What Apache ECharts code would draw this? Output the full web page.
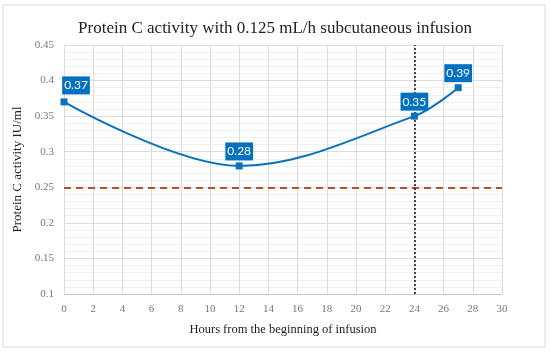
<!DOCTYPE html>
<html><head><meta charset="utf-8">
<script src="https://cdn.jsdelivr.net/npm/echarts@6/dist/echarts.min.js"></script>
<style>html,body{margin:0;padding:0;background:#fff}#c{width:550px;height:355px}</style>
</head><body><div id="c"></div>
<script>
var hours = [0, 12, 24, 27];
var activity = [0.37, 0.28, 0.35, 0.39];
var thresholdValue = 0.25;
var markerHour = 24;
var xTicks = [0, 30, 2];
var yTicks = [0.1, 0.45, 0.05];

var blue = '#0A72BA';
var labelOffsets = [[12, -2], [0, 0], [0, 0], [0, 0]];
var data = hours.map(function (h, i) {
  return {
    value: [h, activity[i]],
    label: { offset: labelOffsets[i] }
  };
});
var serif = '"Liberation Serif", serif';
var chart = echarts.init(document.getElementById('c'));
chart.setOption({
  animation: false,
  title: {
    text: 'Protein C activity with 0.125 mL/h subcutaneous infusion',
    left: 'center', top: 15,
    textStyle: { fontFamily: serif, fontSize: 17, fontWeight: 'normal', color: '#222' }
  },
  graphic: [{
    type: 'rect', shape: { x: 3, y: 5, width: 542, height: 342 },
    style: { fill: 'none', stroke: '#d9d9d9', lineWidth: 1 }, silent: true, z: -1
  }],
  grid: { left: 64, right: 48, top: 45, bottom: 61 },
  xAxis: {
    type: 'value', min: xTicks[0], max: xTicks[1], interval: xTicks[2],
    name: 'Hours from the beginning of infusion', nameLocation: 'middle', nameGap: 29,
    nameTextStyle: { fontFamily: serif, fontSize: 12.5, color: '#222' },
    axisLine: { lineStyle: { color: '#c8c8c8' } },
    axisTick: { show: false },
    axisLabel: { fontFamily: serif, fontSize: 11, color: '#777', margin: 10 },
    splitLine: { lineStyle: { color: '#dcdcdc' } }
  },
  yAxis: {
    type: 'value', min: yTicks[0], max: yTicks[1], interval: yTicks[2],
    name: 'Protein C activity IU/ml', nameLocation: 'middle', nameGap: 28,
    nameTextStyle: { fontFamily: serif, fontSize: 13, color: '#222' },
    axisLine: { show: false },
    axisTick: { show: false },
    axisLabel: { fontFamily: serif, fontSize: 11, color: '#777', margin: 10,
      formatter: function (v) { return String(+v.toFixed(2)); } },
    splitLine: { lineStyle: { color: '#dcdcdc' } },
    minorTick: { show: false, splitNumber: 5 },
    minorSplitLine: { show: true, lineStyle: { color: '#f0f0f0' } }
  },
  series: [{
    type: 'line',
    data: [],
    z: 1,
    markLine: {
      silent: true, symbol: 'none', label: { show: false },
      data: [
        { yAxis: thresholdValue, lineStyle: { color: '#B4532A', type: [7, 5], width: 2 } },
        { xAxis: markerHour, lineStyle: { color: '#111', type: [2, 2], width: 1.5 } }
      ]
    }
  }, {
    type: 'line',
    data: data,
    smooth: 0.35,
    symbol: 'rect', symbolSize: 7,
    lineStyle: { color: blue, width: 2 },
    itemStyle: { color: blue },
    label: {
      show: true, position: 'top', distance: 2,
      backgroundColor: '#0070C0', color: '#fff', padding: [3, 2, 3, 2],
      fontFamily: 'Lato, "Liberation Sans", sans-serif', fontSize: 12,
      formatter: function (p) { return String(p.value[1]); }
    },
    z: 5
  }]
});
</script></body></html>
